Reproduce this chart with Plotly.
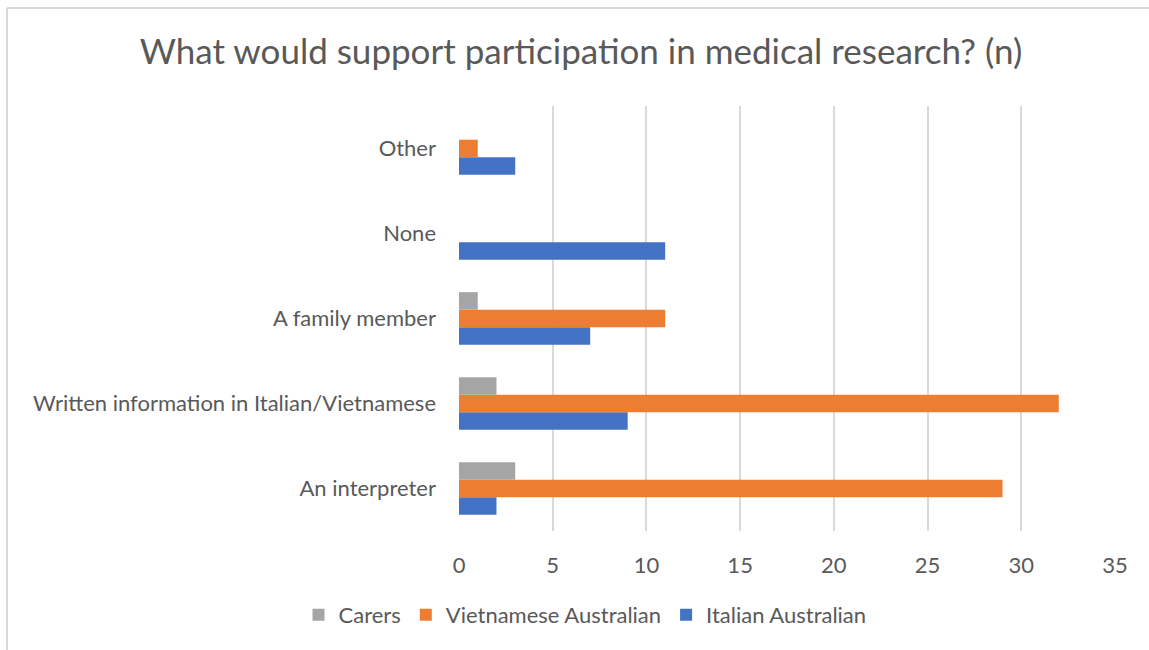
import plotly.graph_objects as go

# Response categories (bottom to top) and counts per group
categories = [
    "An interpreter",
    "Written information in Italian/Vietnamese",
    "A family member",
    "None",
    "Other",
]
italian_australian = [2, 9, 7, 11, 3]
vietnamese_australian = [29, 32, 11, 0, 1]
carers = [3, 2, 1, 0, 0]

x_ticks = [0, 5, 10, 15, 20, 25, 30, 35]

FONT = "Lato, 'Open Sans', sans-serif"
TEXT_GREY = "#595959"
GRID_GREY = "#d9d9d9"

fig = go.Figure()
for name, values, color in [
    ("Italian Australian", italian_australian, "#4472C4"),
    ("Vietnamese Australian", vietnamese_australian, "#ED7D31"),
    ("Carers", carers, "#A5A5A5"),
]:
    fig.add_trace(go.Bar(
        y=categories,
        x=values,
        name=name,
        orientation="h",
        marker=dict(color=color, line=dict(width=0)),
    ))

W, H = 1149, 650
L, R, T, B = 459, 34, 106, 119
plot_w = W - L - R
plot_h = H - T - B

# Light frame around the chart area (top and left edges)
frame_x = (7 - L) / plot_w
frame_y = (H - B - 8) / plot_h
fig.add_shape(type="line", xref="paper", yref="paper",
              x0=frame_x, x1=2, y0=frame_y, y1=frame_y,
              line=dict(color=GRID_GREY, width=2))
fig.add_shape(type="line", xref="paper", yref="paper",
              x0=frame_x, x1=frame_x, y0=frame_y, y1=-1,
              line=dict(color=GRID_GREY, width=2))

fig.update_layout(
    width=W,
    height=H,
    margin=dict(l=L, r=R, t=T, b=B, autoexpand=False),
    paper_bgcolor="white",
    plot_bgcolor="white",
    barmode="group",
    bargap=0.38,
    bargroupgap=0,
    font=dict(family=FONT, color=TEXT_GREY, size=22),
    title=dict(
        text="What would support participation in medical research? (n)",
        font=dict(family=FONT, size=35, color=TEXT_GREY),
        x=581 / W,
        xref="container",
        xanchor="center",
        y=1 - 52 / H,
        yref="container",
        yanchor="middle",
    ),
    xaxis=dict(
        range=[0, 35],
        tickvals=x_ticks,
        showgrid=True,
        gridcolor=GRID_GREY,
        gridwidth=2,
        zeroline=False,
        showline=False,
        ticks="",
        ticklabelstandoff=19,
        tickfont=dict(size=22, color=TEXT_GREY),
        fixedrange=True,
    ),
    yaxis=dict(
        type="category",
        categoryorder="array",
        categoryarray=categories,
        showgrid=False,
        zeroline=False,
        showline=False,
        ticks="",
        ticklabelstandoff=22,
        tickfont=dict(size=22, color=TEXT_GREY),
        fixedrange=True,
    ),
    legend=dict(
        orientation="h",
        traceorder="reversed",
        x=585 / W,
        xref="container",
        xanchor="center",
        y=1 - 615 / H,
        yref="container",
        yanchor="middle",
        font=dict(size=22, color=TEXT_GREY),
        itemwidth=30,
    ),
    showlegend=True,
)

fig.write_html("out.html")
